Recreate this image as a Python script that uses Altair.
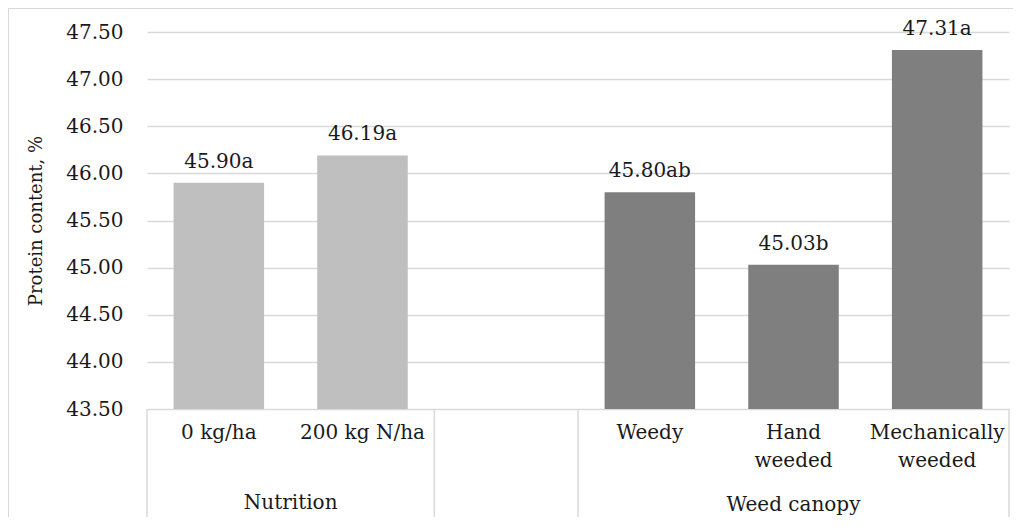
import altair as alt
import pandas as pd

# ---- data ----
categories = ["0 kg/ha", "200 kg N/ha", "Weedy", "Hand weeded", "Mechanically weeded"]
tick_labels = ["0 kg/ha", "200 kg N/ha", "Weedy", "Hand\nweeded", "Mechanically\nweeded"]
groups = ["Nutrition", "Nutrition", "Weed canopy", "Weed canopy", "Weed canopy"]
values = [45.90, 46.19, 45.80, 45.03, 47.31]
letters = ["a", "a", "ab", "b", "a"]
gap = " "
domain = ["0 kg/ha", "200 kg N/ha", gap, "Weedy", "Hand weeded", "Mechanically weeded"]
y_ticks = [43.5, 44.0, 44.5, 45.0, 45.5, 46.0, 46.5, 47.0, 47.5]

df = pd.DataFrame({
    "cat": categories,
    "tick": tick_labels,
    "group": groups,
    "value": values,
    "label": [f"{v:.2f}{l}" for v, l in zip(values, letters)],
})

W, H = 862, 377
BOTTOM = 108
FONT = "DejaVu Serif"
GRID = "#d9d9d9"
TXT = "#1a1a1a"

xscale = alt.Scale(domain=domain, paddingInner=0, paddingOuter=0)
yscale = alt.Scale(domain=[43.5, 47.5], nice=False, zero=False)
yaxis = alt.Axis(values=y_ticks, format=".2f", domain=False, ticks=False,
                 gridColor=GRID, gridWidth=1.5, labelPadding=24,
                 labelFont=FONT, labelFontSize=20, labelColor=TXT,
                 title="Protein content, %", titleFont=FONT, titleFontSize=18,
                 titleColor=TXT, titleFontWeight="normal", titlePadding=20)

bars = alt.Chart(df).mark_bar(width=alt.RelativeBandSize(0.63), clip=True).encode(
    x=alt.X("cat:N", scale=xscale, sort=domain,
            axis=alt.Axis(labels=False, ticks=False, title=None, domainColor=GRID,
                          domainWidth=1.5, grid=False)),
    y=alt.Y("value:Q", scale=yscale, axis=yaxis),
    color=alt.Color("group:N", scale=alt.Scale(domain=["Nutrition", "Weed canopy"],
                                               range=["#bfbfbf", "#7f7f7f"]), legend=None),
)

value_text = alt.Chart(df).mark_text(font=FONT, fontSize=20, color=TXT,
                                     baseline="alphabetic", dy=-15).encode(
    x=alt.X("cat:N", scale=xscale, axis=None),
    y=alt.Y("value:Q", scale=yscale, axis=yaxis),
    text="label:N",
)

tick_text = alt.Chart(df).mark_text(font=FONT, fontSize=20, color=TXT,
                                    baseline="top", lineBreak="\n", lineHeight=28).encode(
    x=alt.X("cat:N", scale=xscale, axis=None),
    y=alt.value(H + 14),
    text="tick:N",
)

# group separators (left edges of bands and right end)
sep_left = pd.DataFrame({"cat": ["0 kg/ha", gap, "Weedy"]})
sep_right = pd.DataFrame({"cat": ["Mechanically weeded"]})
rules_l = alt.Chart(sep_left).mark_rule(color=GRID, strokeWidth=1.5).encode(
    x=alt.X("cat:N", scale=xscale, bandPosition=0, axis=None),
    y=alt.value(H), y2=alt.value(H + BOTTOM),
)
rules_r = alt.Chart(sep_right).mark_rule(color=GRID, strokeWidth=1.5).encode(
    x=alt.X("cat:N", scale=xscale, bandPosition=1, axis=None),
    y=alt.value(H), y2=alt.value(H + BOTTOM),
)

grp1 = alt.Chart(pd.DataFrame({"cat": ["0 kg/ha"], "g": ["Nutrition"]})).mark_text(
    font=FONT, fontSize=20, color=TXT, baseline="middle").encode(
    x=alt.X("cat:N", scale=xscale, bandPosition=1, axis=None),
    y=alt.value(H + 94), text="g:N")
grp2 = alt.Chart(pd.DataFrame({"cat": ["Hand weeded"], "g": ["Weed canopy"]})).mark_text(
    font=FONT, fontSize=20, color=TXT, baseline="middle").encode(
    x=alt.X("cat:N", scale=xscale, bandPosition=0.5, axis=None),
    y=alt.value(H + 96), text="g:N")

border = alt.Chart(pd.DataFrame({"k": [0]})).mark_rect(
    fillOpacity=0, stroke=GRID, strokeWidth=2).encode(
    x=alt.value(-139), x2=alt.value(W + 30), y=alt.value(-24), y2=alt.value(H + BOTTOM + 20))

chart = alt.layer(border, bars, value_text, tick_text, rules_l, rules_r, grp1, grp2).properties(
    width=W, height=H,
    background="white",
    autosize=alt.AutoSizeParams(type="none"),
    padding={"left": 139, "top": 24, "right": 4, "bottom": BOTTOM},
).configure_view(stroke=None)

chart.save("out.html", embed_options={"renderer": "svg", "actions": False})
